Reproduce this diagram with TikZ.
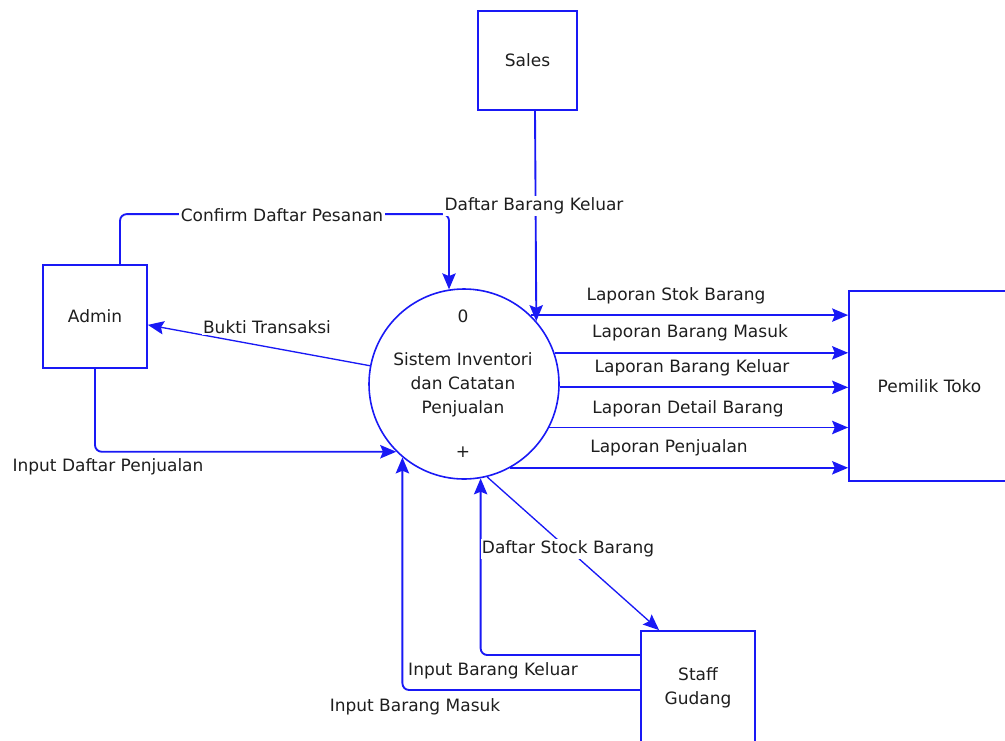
\documentclass[tikz,border=0pt]{standalone}
\usepackage{fontspec}
\setmainfont{DejaVu Sans}
\usetikzlibrary{arrows.meta,calc}
\definecolor{dfd}{RGB}{25,25,245}
\definecolor{txt}{RGB}{30,30,30}
\begin{document}
\begin{tikzpicture}[x=0.75pt,y=-0.75pt,
  every node/.style={font=\fontsize{12.75}{18}\selectfont, text=txt},
  ent/.style={draw=dfd, line width=1.3pt, fill=white, inner sep=0pt},
  proc/.style={draw=dfd, line width=1.2pt, circle, minimum size=142.5pt, inner sep=0pt},
  flow/.style={draw=dfd, line width=1.4pt, rounded corners=5pt,
    -{Stealth[length=12pt,width=10pt,inset=2pt]}},
  thinflow/.style={flow, line width=1.0pt},
  lbl/.style={fill=white, inner sep=1pt},
  plain/.style={inner sep=1pt}]
\useasboundingbox (0,0) rectangle (1005,740);
% entities and process
\node[ent, minimum width=74.25pt, minimum height=74.25pt] (sales) at (527.5,60.5) {Sales};
\node[ent, minimum width=78pt, minimum height=77.25pt] (admin) at (95,316.5) {Admin};
\node[ent, minimum width=120.75pt, minimum height=142.5pt] (pemilik) at (929.5,386) {Pemilik Toko};
\node[ent, minimum width=85.5pt, minimum height=85.5pt, align=center] (staff) at (698,688) {Staff\\Gudang};
\node[proc] (proc) at (464,384) {};
\node (pnum) at (463,316) {0};
\node[align=center] (pname) at (463,385) {Sistem Inventori\\dan Catatan\\Penjualan};
\node (pplus) at (463,452) {+};
% flows
\draw[flow] ($(admin.north)+(25,0)$) -- ++(0,-50) -| (proc.99.7);
\draw[flow] ($(sales.south)+(7.5,0)$) -- (proc.41.6);
\draw[thinflow] (proc.169) -- (admin.-9);
\draw[flow] (admin.south) |- (proc.225);
\draw[flow] ($(staff.west)+(0,2)$) -| (proc.230);
\draw[flow] ($(staff.west)+(0,-33)$) -| (proc.280.3);
\draw[thinflow] (proc.284) -- ($(staff.north west)+(19,0)$);
\draw[flow] (proc.46) -- (proc.46 -| pemilik.west);
\draw[flow] (proc.19) -- (proc.19 -| pemilik.west);
\draw[flow] (proc.-2.4) -- (proc.-2.4 -| pemilik.west);
\draw[flow] (proc.-27) -- (proc.-27 -| pemilik.west);
\draw[flow] (proc.-61) -- (proc.-61 -| pemilik.west);
% labels
\node[lbl] (l1) at (282,215) {Confirm Daftar Pesanan};
\node[lbl] (l2) at (534,206) {Daftar Barang Keluar};
\node[lbl] (l3) at (267,327) {Bukti Transaksi};
\node[plain] (l4) at (108,467) {Input Daftar Penjualan};
\node[lbl] (l5) at (568,549) {Daftar Stock Barang};
\node[plain] (l6) at (493,671) {Input Barang Keluar};
\node[plain] (l7) at (415,707) {Input Barang Masuk};
\node[plain] (l8) at (676,296) {Laporan Stok Barang};
\node[plain] (l9) at (690,333) {Laporan Barang Masuk};
\node[plain] (l10) at (692,368) {Laporan Barang Keluar};
\node[plain] (l11) at (688,409) {Laporan Detail Barang};
\node[plain] (l12) at (669,448) {Laporan Penjualan};
\end{tikzpicture}
\end{document}
